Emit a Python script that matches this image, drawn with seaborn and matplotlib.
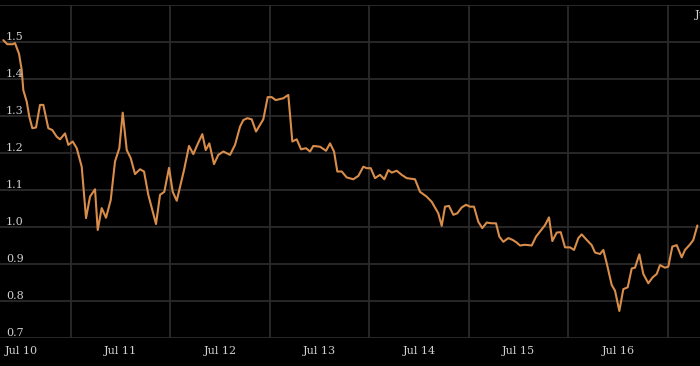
import matplotlib
matplotlib.use("Agg")
import matplotlib.pyplot as plt
import seaborn as sns
import pandas as pd

# hours since Jul 10 00:00
hours = [-4.27, -3.30, -2.00, -1.45, -0.48, 0.17, 0.55, 1.37, 2.00, 2.73, 3.62, 4.58, 5.38, 6.58,
         7.55, 8.61, 9.41, 10.61, 11.41, 12.47, 13.43, 14.64, 15.68, 16.64, 17.85, 18.50, 19.46,
         20.50, 21.64, 22.67, 23.71, 24.53, 25.50, 26.46, 27.50, 28.70, 29.67, 30.70, 32.56, 33.53,
         34.56, 35.70, 36.59, 37.56, 39.32, 40.52, 41.56, 42.52, 43.73, 44.55, 45.42, 46.55, 47.59,
         48.80, 50.41, 51.62, 52.82, 53.62, 54.58, 55.64, 56.68, 58.44, 59.50, 60.47, 61.43, 63.27,
         64.47, 65.44, 66.50, 67.54, 68.74, 69.71, 70.50, 72.12, 73.57, 74.53, 75.50, 76.29, 77.35,
         78.56, 80.15, 81.36, 82.56, 83.38, 84.35, 85.38, 86.59, 87.63, 88.59, 89.41, 90.62, 91.82,
         93.03, 95.03, 96.24, 97.85, 99.06, 100.65, 101.47, 102.27, 103.23, 104.27, 105.23, 106.30,
         107.33, 108.30, 109.26, 110.30, 111.26, 112.32, 113.53, 114.57, 115.37, 116.33, 117.54,
         118.60, 119.56, 120.36, 121.57, 123.18, 124.22, 126.39, 127.35, 128.15, 129.21, 130.18,
         131.21, 132.42, 133.39, 134.42, 135.24, 136.45, 137.65, 138.45, 139.65, 140.45, 141.27,
         142.48, 143.27, 144.31, 145.27, 146.33, 147.30, 148.09, 149.13, 150.10, 151.30, 152.36,
         153.33, 154.12, 155.33, 156.13, 157.09, 158.15, 159.36, 160.15, 161.36, 162.16, 163.13]
values = [1.505, 1.494, 1.494, 1.497, 1.468, 1.424, 1.370, 1.339, 1.298, 1.267, 1.269, 1.330, 1.330,
          1.267, 1.262, 1.244, 1.237, 1.253, 1.222, 1.231, 1.213, 1.163, 1.024, 1.082, 1.102, 0.992,
          1.051, 1.025, 1.073, 1.177, 1.213, 1.309, 1.208, 1.186, 1.143, 1.156, 1.150, 1.087, 1.008,
          1.087, 1.095, 1.160, 1.095, 1.071, 1.154, 1.219, 1.197, 1.222, 1.251, 1.208, 1.226, 1.170,
          1.195, 1.204, 1.195, 1.222, 1.271, 1.289, 1.294, 1.291, 1.258, 1.291, 1.351, 1.351, 1.343,
          1.348, 1.357, 1.231, 1.237, 1.210, 1.213, 1.204, 1.219, 1.217, 1.206, 1.226, 1.204, 1.150,
          1.150, 1.134, 1.129, 1.138, 1.163, 1.159, 1.159, 1.132, 1.141, 1.129, 1.154, 1.147, 1.152,
          1.141, 1.132, 1.129, 1.095, 1.082, 1.068, 1.037, 1.003, 1.055, 1.057, 1.033, 1.037, 1.053,
          1.060, 1.055, 1.055, 1.014, 0.997, 1.012, 1.010, 1.010, 0.974, 0.960, 0.970, 0.965, 0.958,
          0.950, 0.952, 0.950, 0.974, 1.005, 1.026, 0.962, 0.985, 0.986, 0.945, 0.945, 0.938, 0.970,
          0.980, 0.965, 0.951, 0.931, 0.927, 0.938, 0.902, 0.843, 0.828, 0.773, 0.832, 0.837, 0.888,
          0.890, 0.926, 0.873, 0.848, 0.864, 0.873, 0.897, 0.890, 0.893, 0.947, 0.951, 0.918, 0.938,
          0.953, 0.965, 1.004]

day_ticks = [0, 24, 48, 72, 96, 120, 144]
day_labels = ["Jul 10", "Jul 11", "Jul 12", "Jul 13", "Jul 14", "Jul 15", "Jul 16"]
grid_x = [12, 36, 60, 84, 108, 132, 156]
y_ticks = [0.7, 0.8, 0.9, 1.0, 1.1, 1.2, 1.3, 1.4, 1.5, 1.6]
y_labels = ["0.7", "0.8", "0.9", "1.0", "1.1", "1.2", "1.3", "1.4", "1.5"]

df = pd.DataFrame({"hour": hours, "value": values})

sns.set_theme(style="dark")
W, H = 700, 366
fig = plt.figure(figsize=(W / 100, H / 100), dpi=100, facecolor="black")
ax = fig.add_axes([0, 28 / H, 1, 333 / H])
ax.set_facecolor("black")

sns.lineplot(data=df, x="hour", y="value", ax=ax, color="#d98d4b", linewidth=1.5)

ax.set_xlim(-5.07, 163.77)
ax.set_ylim(0.7, 1.6)
for s in ax.spines.values():
    s.set_visible(False)

grid_color = "#2b2b2b"
for y in y_ticks:
    ax.axhline(y, color=grid_color, linewidth=1.3, zorder=0)
for x in grid_x:
    ax.axvline(x, color=grid_color, linewidth=1.3, zorder=0)

ax.set_xticks(day_ticks)
ax.set_xticklabels(day_labels)
ax.set_yticks([])
ax.tick_params(axis="x", length=0, pad=6, labelsize=8, labelcolor="#d0d0d0")
for lab in ax.get_xticklabels():
    lab.set_fontfamily("DejaVu Serif")
ax.set_xlabel("")
ax.set_ylabel("")
ax.grid(False)

ytr = ax.get_yaxis_transform()
for lab in y_labels:
    ax.text(6 / W, float(lab) + 0.005, lab, transform=ytr, ha="left", va="baseline",
            fontsize=8, color="#d0d0d0", family="DejaVu Serif")

fig.text(695 / W, 1 - 15 / H, "Jul 17", ha="left", va="center", fontsize=8,
         color="#d0d0d0", family="DejaVu Serif")

fig.savefig("out.png", dpi=100, facecolor="black")
